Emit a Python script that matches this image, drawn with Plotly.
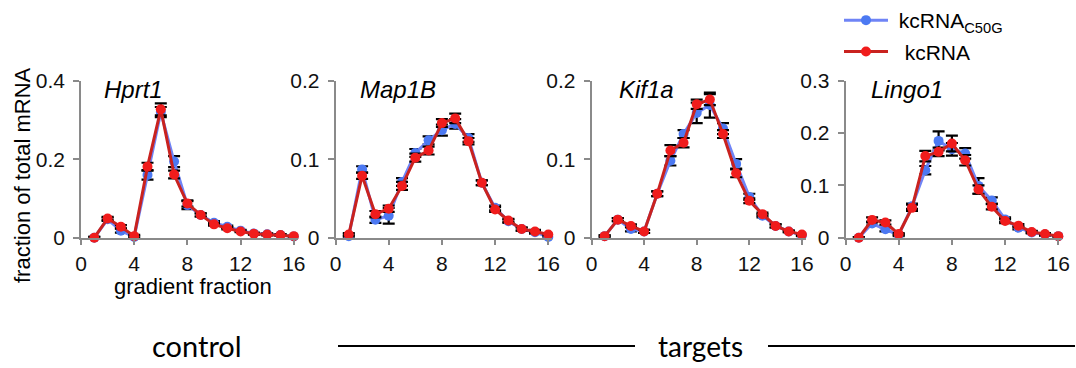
import plotly.graph_objects as go

W_PX, H_PX = 1076, 368

fractions = list(range(1, 17))
genes = ["Hprt1", "Map1B", "Kif1a", "Lingo1"]
y_max = [0.4, 0.2, 0.2, 0.3]
y_dtick = [0.2, 0.1, 0.1, 0.1]
x_ticks = [0, 4, 8, 12, 16]

# kcRNA_C50G (blue)
hprt1_c50g = [0.000, 0.047, 0.018, 0.002, 0.160, 0.320, 0.194, 0.083, 0.058, 0.038, 0.028, 0.018, 0.011, 0.009, 0.007, 0.003]
map1b_c50g = [0.002, 0.087, 0.023, 0.028, 0.071, 0.108, 0.124, 0.137, 0.145, 0.127, 0.070, 0.038, 0.021, 0.011, 0.007, 0.001]
kif1a_c50g = [0.002, 0.023, 0.011, 0.008, 0.056, 0.098, 0.132, 0.159, 0.169, 0.139, 0.094, 0.052, 0.028, 0.015, 0.008, 0.003]
lingo1_c50g = [0.000, 0.027, 0.016, 0.005, 0.060, 0.129, 0.185, 0.169, 0.161, 0.099, 0.071, 0.035, 0.019, 0.010, 0.006, 0.003]

# kcRNA (red)
hprt1_kc = [0.000, 0.049, 0.028, 0.004, 0.181, 0.327, 0.161, 0.087, 0.058, 0.034, 0.024, 0.016, 0.010, 0.008, 0.007, 0.004]
map1b_kc = [0.004, 0.079, 0.030, 0.037, 0.066, 0.102, 0.111, 0.146, 0.152, 0.123, 0.070, 0.036, 0.022, 0.011, 0.008, 0.004]
kif1a_kc = [0.002, 0.023, 0.015, 0.008, 0.056, 0.111, 0.121, 0.170, 0.176, 0.132, 0.082, 0.047, 0.030, 0.015, 0.008, 0.004]
lingo1_kc = [0.000, 0.034, 0.029, 0.007, 0.057, 0.156, 0.164, 0.180, 0.148, 0.092, 0.059, 0.032, 0.023, 0.011, 0.007, 0.003]

# error bars (SD)
hprt1_c50g_err = [0.002, 0.004, 0.005, 0.003, 0.012, 0.013, 0.014, 0.010, 0.004, 0.004, 0.003, 0.002, 0.002, 0.002, 0.002, 0.001]
hprt1_kc_err = [0.002, 0.004, 0.004, 0.003, 0.010, 0.015, 0.010, 0.008, 0.004, 0.003, 0.003, 0.002, 0.002, 0.002, 0.002, 0.001]
map1b_c50g_err = [0.002, 0.004, 0.004, 0.010, 0.005, 0.005, 0.005, 0.007, 0.006, 0.005, 0.003, 0.003, 0.002, 0.002, 0.002, 0.001]
map1b_kc_err = [0.002, 0.004, 0.004, 0.004, 0.005, 0.005, 0.005, 0.005, 0.006, 0.004, 0.003, 0.003, 0.002, 0.002, 0.002, 0.001]
kif1a_c50g_err = [0.001, 0.002, 0.003, 0.002, 0.003, 0.006, 0.005, 0.013, 0.016, 0.007, 0.006, 0.004, 0.002, 0.002, 0.001, 0.001]
kif1a_kc_err = [0.001, 0.002, 0.002, 0.002, 0.003, 0.007, 0.006, 0.006, 0.007, 0.005, 0.005, 0.003, 0.002, 0.002, 0.001, 0.001]
lingo1_c50g_err = [0.001, 0.004, 0.004, 0.002, 0.005, 0.008, 0.018, 0.012, 0.010, 0.015, 0.006, 0.004, 0.003, 0.002, 0.002, 0.001]
lingo1_kc_err = [0.001, 0.005, 0.004, 0.002, 0.006, 0.010, 0.008, 0.015, 0.010, 0.008, 0.005, 0.004, 0.003, 0.002, 0.002, 0.001]

c50g_series = [hprt1_c50g, map1b_c50g, kif1a_c50g, lingo1_c50g]
kc_series = [hprt1_kc, map1b_kc, kif1a_kc, lingo1_kc]
c50g_errs = [hprt1_c50g_err, map1b_c50g_err, kif1a_c50g_err, lingo1_c50g_err]
kc_errs = [hprt1_kc_err, map1b_kc_err, kif1a_kc_err, lingo1_kc_err]

# layout geometry (pixels)
x0_px = [81, 335.5, 591.5, 845.5]
px_per_unit = [13.3, 13.3, 13.15, 13.3]
x_range_max = 16.3
y0_px, ytop_px = 237.7, 80.7

BLUE_LINE, BLUE_MK = "#6f84f6", "#4c79f2"
RED_LINE, RED_MK = "#c9221f", "#f01c1c"
AXIS = "#8a8a8a"
FONT = "Liberation Sans, Arial, sans-serif"

fig = go.Figure()
layout = {}
for i in range(4):
    n = "" if i == 0 else str(i + 1)
    xa, ya = "x" + n, "y" + n
    for vals, errs, lc, mc, name in [
        (c50g_series[i], c50g_errs[i], BLUE_LINE, BLUE_MK, "&nbsp;kcRNA<sub>C50G</sub>"),
        (kc_series[i], kc_errs[i], RED_LINE, RED_MK, "&nbsp;&nbsp;kcRNA"),
    ]:
        fig.add_trace(go.Scatter(
            x=fractions, y=vals, xaxis=xa, yaxis=ya, mode="lines+markers",
            name=name, showlegend=(i == 0), legendgroup=name,
            line=dict(color=lc, width=3),
            marker=dict(color=mc, size=10),
            error_y=dict(type="data", array=errs, visible=True, color="black",
                         thickness=2.2, width=6),
            cliponaxis=False,
        ))
    x0 = x0_px[i]
    x1 = x0 + px_per_unit[i] * x_range_max
    layout["xaxis" + n] = dict(
        domain=[x0 / W_PX, x1 / W_PX], range=[0, x_range_max], anchor=ya,
        showline=True, linecolor=AXIS, linewidth=1.5, ticks="outside",
        ticklen=6, tickcolor=AXIS, tickwidth=1.5, tickvals=x_ticks,
        tickfont=dict(size=21, color="#111", family=FONT),
        showgrid=False, zeroline=False, fixedrange=True, automargin=False,
    )
    layout["yaxis" + n] = dict(
        domain=[(H_PX - y0_px) / H_PX, (H_PX - ytop_px) / H_PX],
        range=[0, y_max[i]], anchor=xa, dtick=y_dtick[i], tick0=0,
        showline=True, linecolor=AXIS, linewidth=1.5, ticks="outside",
        ticklen=6, tickcolor=AXIS, tickwidth=1.5, ticklabelstandoff=4,
        tickfont=dict(size=21, color="#111", family=FONT),
        showgrid=False, zeroline=False, fixedrange=True, automargin=False,
    )

annotations = []
gene_x = [102, 358, 617, 869]
for g, gx in zip(genes, gene_x):
    annotations.append(dict(
        text="<i>" + g + "</i>", x=gx / W_PX, y=1 - 89 / H_PX, xref="paper", yref="paper",
        xanchor="left", yanchor="middle", showarrow=False,
        font=dict(size=24, color="black", family=FONT),
    ))
annotations.append(dict(
    text="fraction of total mRNA", x=22 / W_PX, y=1 - 175 / H_PX, xref="paper", yref="paper",
    xanchor="center", yanchor="middle", textangle=-90, showarrow=False,
    font=dict(size=22, color="black", family=FONT),
))
annotations.append(dict(
    text="gradient fraction", x=193 / W_PX, y=1 - 286 / H_PX, xref="paper", yref="paper",
    xanchor="center", yanchor="middle", showarrow=False,
    font=dict(size=22, color="black", family=FONT),
))
annotations.append(dict(
    text="control", x=197 / W_PX, y=1 - 345 / H_PX, xref="paper", yref="paper",
    xanchor="center", yanchor="middle", showarrow=False,
    font=dict(size=29, color="black", family="Lato, sans-serif"),
))
annotations.append(dict(
    text="targets", x=700 / W_PX, y=1 - 346 / H_PX, xref="paper", yref="paper",
    xanchor="center", yanchor="middle", showarrow=False,
    font=dict(size=28, color="black", family="Lato, sans-serif"),
))

shapes = [
    dict(type="line", xref="paper", yref="paper", x0=338 / W_PX, x1=635 / W_PX,
         y0=1 - 346 / H_PX, y1=1 - 346 / H_PX, line=dict(color="black", width=2)),
    dict(type="line", xref="paper", yref="paper", x0=768 / W_PX, x1=1075 / W_PX,
         y0=1 - 346 / H_PX, y1=1 - 346 / H_PX, line=dict(color="black", width=2)),
]

fig.update_layout(
    **layout,
    width=W_PX, height=H_PX,
    margin=dict(l=0, r=0, t=0, b=0, autoexpand=False),
    paper_bgcolor="white", plot_bgcolor="white",
    annotations=annotations, shapes=shapes,
    showlegend=True,
    legend=dict(x=839 / W_PX, y=1.0, xanchor="left", yanchor="top",
                font=dict(size=21, color="black", family=FONT),
                bgcolor="rgba(0,0,0,0)", itemwidth=44, tracegroupgap=1),
    font=dict(family=FONT),
)

fig.write_html("out.html")
